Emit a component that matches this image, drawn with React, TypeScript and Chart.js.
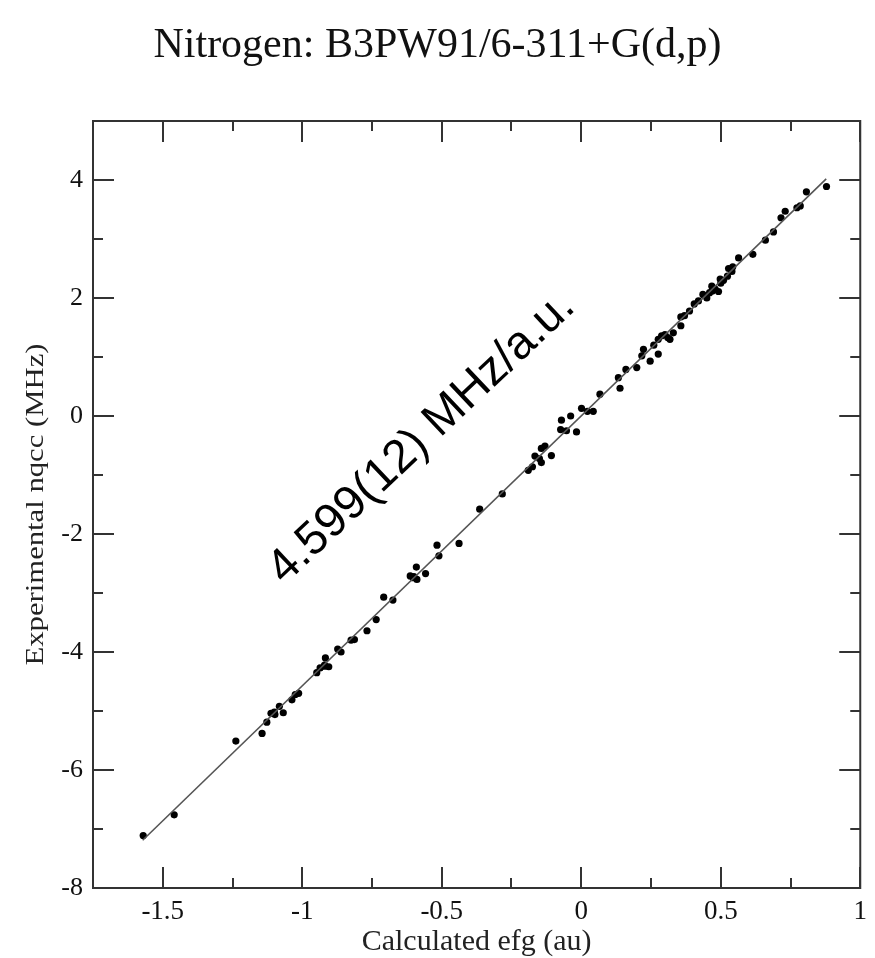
import React, { useEffect, useRef } from "react";
import { Chart, registerables } from "chart.js";

Chart.register(...registerables);

const chartTitle = "Nitrogen: B3PW91/6-311+G(d,p)";
const xAxisTitle = "Calculated efg (au)";
const yAxisTitle = "Experimental nqcc (MHz)";
const annotationText = "4.599(12) MHz/a.u.";

const xMajorTicks = [-1.5, -1, -0.5, 0, 0.5, 1];
const xMinorTicks = [-1.25, -0.75, -0.25, 0.25, 0.75];
const yMajorTicks = [-8, -6, -4, -2, 0, 2, 4];
const yMinorTicks = [-7, -5, -3, -1, 1, 3];

const calcEfg = [
  -1.57, -1.459, -1.238, -1.144, -1.127, -1.112, -1.098, -1.082, -1.068, -1.037,
  -1.025, -1.013, -0.948, -0.936, -0.92, -0.905, -0.917, -0.873, -0.861, -0.825,
  -0.813, -0.768, -0.735, -0.708, -0.675, -0.613, -0.603, -0.591, -0.589, -0.558,
  -0.517, -0.51, -0.438, -0.364, -0.283, -0.19, -0.175, -0.166, -0.143, -0.143,
  -0.13, -0.107, -0.074, -0.071, -0.053, -0.038, -0.017, 0.001, 0.022, 0.043,
  0.067, 0.139, 0.133, 0.16, 0.199, 0.247, 0.276, 0.217, 0.223, 0.276,
  0.288, 0.318, 0.33, 0.357, 0.357, 0.388, 0.405, 0.436, 0.46, 0.468,
  0.492, 0.498, 0.524, 0.528, 0.543, 0.564, 0.615, 0.66, 0.689, 0.716,
  0.731, 0.773, 0.785, 0.807, 0.879, 0.3, 0.45, 0.48, 0.51, 0.54,
  -0.92, -1.1, -0.6, -0.15, 0.26, 0.42, 0.47, 0.37, 0.31, 0.5,
];
const expNqcc = [
  -7.11, -6.76, -5.51, -5.38, -5.19, -5.04, -5.06, -4.92, -5.03, -4.81,
  -4.72, -4.7, -4.35, -4.27, -4.24, -4.25, -4.1, -3.95, -4.0, -3.8,
  -3.79, -3.64, -3.45, -3.07, -3.12, -2.71, -2.74, -2.56, -2.77, -2.67,
  -2.19, -2.37, -2.16, -1.58, -1.32, -0.92, -0.86, -0.68, -0.79, -0.55,
  -0.51, -0.67, -0.23, -0.07, -0.25, 0.0, -0.27, 0.13, 0.08, 0.08,
  0.37, 0.47, 0.65, 0.79, 0.82, 0.93, 1.05, 1.02, 1.13, 1.3,
  1.36, 1.3, 1.41, 1.53, 1.68, 1.78, 1.9, 2.06, 2.09, 2.2,
  2.11, 2.32, 2.37, 2.5, 2.53, 2.68, 2.74, 2.98, 3.12, 3.36,
  3.47, 3.53, 3.56, 3.8, 3.89, 1.38, 2.0, 2.15, 2.3, 2.45,
  -4.22, -5.02, -2.72, -0.72, 1.2, 1.95, 2.12, 1.7, 1.33, 2.25,
];

const fitX = [-1.572, 0.878];
const fitY = [-7.19, 4.02];

const annotationAt = { x: -0.54, y: -0.53 };

const serif = "'Liberation Serif', 'Times New Roman', serif";
const sans = "'Liberation Sans', Arial, sans-serif";

const decorPlugin = {
  id: "decor",
  afterDraw(chart: any) {
    const { ctx, chartArea, scales } = chart;
    const { left, right, top, bottom } = chartArea;
    const xs = scales.x;
    const ys = scales.y;
    ctx.save();
    ctx.strokeStyle = "#333";
    ctx.lineWidth = 2;
    ctx.strokeRect(left, top, right - left, bottom - top);
    const major = 21;
    const minor = 10;
    ctx.beginPath();
    xMajorTicks.forEach((v) => {
      const p = Math.round(xs.getPixelForValue(v));
      ctx.moveTo(p, bottom);
      ctx.lineTo(p, bottom - major);
      ctx.moveTo(p, top);
      ctx.lineTo(p, top + major);
    });
    xMinorTicks.forEach((v) => {
      const p = Math.round(xs.getPixelForValue(v));
      ctx.moveTo(p, bottom);
      ctx.lineTo(p, bottom - minor);
      ctx.moveTo(p, top);
      ctx.lineTo(p, top + minor);
    });
    yMajorTicks.forEach((v) => {
      const p = Math.round(ys.getPixelForValue(v));
      ctx.moveTo(left, p);
      ctx.lineTo(left + major, p);
      ctx.moveTo(right, p);
      ctx.lineTo(right - major, p);
    });
    yMinorTicks.forEach((v) => {
      const p = Math.round(ys.getPixelForValue(v));
      ctx.moveTo(left, p);
      ctx.lineTo(left + minor, p);
      ctx.moveTo(right, p);
      ctx.lineTo(right - minor, p);
    });
    ctx.stroke();

    ctx.fillStyle = "#111";
    // title
    ctx.font = `42px ${serif}`;
    ctx.textAlign = "center";
    ctx.textBaseline = "alphabetic";
    ctx.fillText(chartTitle, chart.width / 2, 57);

    // x axis title
    ctx.font = `30px ${serif}`;
    ctx.fillStyle = "#222";
    ctx.fillText(xAxisTitle, (left + right) / 2, 950);

    // y axis title
    ctx.save();
    ctx.translate(43, (top + bottom) / 2);
    ctx.rotate(-Math.PI / 2);
    ctx.scale(1.18, 1);
    ctx.font = `26px ${serif}`;
    ctx.fillText(yAxisTitle, 0, 0);
    ctx.restore();

    // annotation
    ctx.save();
    ctx.translate(xs.getPixelForValue(annotationAt.x), ys.getPixelForValue(annotationAt.y));
    ctx.rotate((-43.4 * Math.PI) / 180);
    ctx.font = `47px ${sans}`;
    ctx.fillStyle = "#000";
    ctx.textAlign = "center";
    ctx.fillText(annotationText, 0, 0);
    ctx.restore();

    ctx.restore();
  },
};

export default function App() {
  const ref = useRef<HTMLCanvasElement | null>(null);
  useEffect(() => {
    document.body.style.margin = "0";
    const canvas = ref.current!;
    const chart = new Chart(canvas, {
      type: "scatter",
      data: {
        datasets: [
          {
            type: "line",
            label: "fit",
            data: fitX.map((x, i) => ({ x, y: fitY[i] })),
            borderColor: "#555",
            borderWidth: 1.6,
            pointRadius: 0,
            fill: false,
          } as any,
          {
            label: "data",
            data: calcEfg.map((x, i) => ({ x, y: expNqcc[i] })),
            backgroundColor: "#000",
            borderColor: "#000",
            borderWidth: 0,
            pointRadius: 3.6,
          },
        ],
      },
      options: {
        animation: false,
        responsive: false,
        maintainAspectRatio: false,
        layout: { padding: { top: 121, right: 14, left: 0, bottom: 0 } },
        plugins: {
          legend: { display: false },
          tooltip: { enabled: false },
          title: { display: false },
        },
        scales: {
          x: {
            type: "linear",
            min: -1.75,
            max: 1,
            grid: { display: false, drawTicks: false },
            border: { display: false },
            afterBuildTicks: (s: any) => {
              s.ticks = xMajorTicks.map((v) => ({ value: v }));
            },
            afterFit: (s: any) => {
              s.height = 70;
            },
            ticks: {
              color: "#111",
              font: { family: serif, size: 27 },
              padding: 8,
              maxRotation: 0,
              autoSkip: false,
              callback: (v: any) => String(v),
            },
          },
          y: {
            type: "linear",
            min: -8,
            max: 5,
            grid: { display: false, drawTicks: false },
            border: { display: false },
            afterBuildTicks: (s: any) => {
              s.ticks = yMajorTicks.map((v) => ({ value: v }));
            },
            afterFit: (s: any) => {
              s.width = 93;
            },
            ticks: {
              color: "#111",
              font: { family: serif, size: 26 },
              padding: 10,
              autoSkip: false,
              callback: (v: any) => String(v),
            },
          },
        },
      },
      plugins: [decorPlugin],
    });
    return () => chart.destroy();
  }, []);
  return (
    <div style={{ width: 875, height: 958, background: "#fff" }}>
      <canvas ref={ref} width={875} height={958} style={{ display: "block" }} />
    </div>
  );
}
